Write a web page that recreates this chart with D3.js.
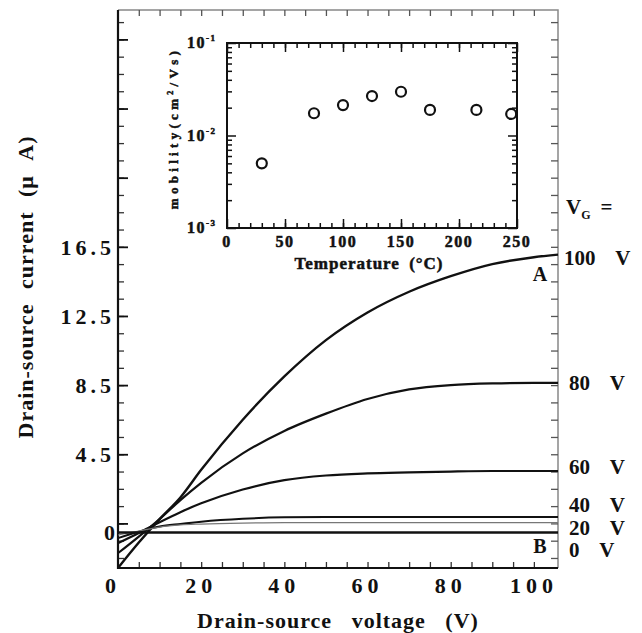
<!DOCTYPE html>
<html>
<head>
<meta charset="utf-8">
<script src="https://cdn.jsdelivr.net/npm/d3@7"></script>
<style>
  body { margin: 0; background: #fff; }
  text { font-family: "Liberation Serif", "Times New Roman", serif; font-weight: bold; fill: #111; }
  .inset text { stroke: #111; stroke-width: 0.5; }
</style>
</head>
<body>
<svg id="chart" width="642" height="633"></svg>
<script>
// drain-source sweep (V) and drain current (uA) per gate voltage
const vds   = [0, 5, 10, 15, 20, 30, 40, 50, 60, 70, 80, 90, 100, 105.8];
const id100 = [-2.08, -0.61, 0.75, 2.0, 3.6, 6.5, 9.0, 11.1, 12.7, 13.9, 14.8, 15.5, 15.9, 16.05];
const id80  = [-1.22, -0.26, 0.75, 1.85, 2.85, 4.55, 5.85, 6.85, 7.7, 8.25, 8.5, 8.6, 8.63, 8.63];
const id60  = [-0.64, -0.05, 0.57, 1.15, 1.66, 2.46, 3.0, 3.27, 3.39, 3.45, 3.50, 3.53, 3.53, 3.53];
const id40  = [-0.35, 0.02, 0.32, 0.47, 0.60, 0.77, 0.85, 0.87, 0.87, 0.87, 0.87, 0.87, 0.87, 0.87];
const id20  = [-0.17, 0.06, 0.29, 0.41, 0.46, 0.52, 0.55, 0.55, 0.55, 0.55, 0.55, 0.55, 0.55, 0.55];
const id0   = [-0.03, -0.03, -0.03, -0.03, -0.03, -0.03, -0.03, -0.03, -0.03, -0.03, -0.03, -0.03, -0.03, -0.03];
const vgLabels = ['100 V', '80 V', '60 V', '40 V', '20 V', '0 V'];
const yTickVals = [0, 4.5, 8.5, 12.5, 16.5];
const xTickVals = [0, 20, 40, 60, 80, 100];

// inset: mobility vs temperature
const temps = [30, 75, 100, 125, 150, 175, 215, 245];
const mobility = [0.0050, 0.0174, 0.0213, 0.0267, 0.0297, 0.0189, 0.0189, 0.0171];
const tempTicks = [0, 50, 100, 150, 200, 250];
const mobTicks = [1e-3, 1e-2, 1e-1];

const svg = d3.select('#chart');

const x = d3.scaleLinear().domain([0, 105.8]).range([118, 558]);
const y = d3.scaleLinear().domain([-2.08, 30.2]).range([568, 10]);

// frame: top and right lighter
svg.append('path')
  .attr('d', `M${x(0)},${y(30.2)}H${x(105.8)}V${y(-2.08)}`)
  .attr('fill', 'none').attr('stroke', '#888').attr('stroke-width', 1.5);

// minor ticks
const minorY = d3.range(-1.5, 30, 1);
const majorY = d3.range(0.5, 30, 4);
const minorX = d3.range(5, 105, 5);

svg.append('g')
  .attr('transform', `translate(${x(0)},0)`)
  .call(d3.axisRight(y).tickValues(minorY).tickSize(6).tickFormat(''))
  .call(g => g.select('.domain').remove())
  .selectAll('line').attr('stroke', '#333').attr('stroke-width', 1.3);
svg.append('g')
  .attr('transform', `translate(${x(0)},0)`)
  .call(d3.axisRight(y).tickValues(majorY).tickSize(10).tickFormat(''))
  .call(g => g.select('.domain').remove())
  .selectAll('line').attr('stroke', '#111').attr('stroke-width', 1.8);
svg.append('g')
  .attr('transform', `translate(${x(105.8)},0)`)
  .call(d3.axisLeft(y).tickValues(minorY).tickSize(7).tickFormat(''))
  .call(g => g.select('.domain').remove())
  .selectAll('line').attr('stroke', '#555').attr('stroke-width', 1.3);

svg.append('g')
  .attr('transform', `translate(0,${y(-2.08)})`)
  .call(d3.axisTop(x).tickValues(minorX).tickSize(6).tickFormat(''))
  .call(g => g.select('.domain').remove())
  .selectAll('line').attr('stroke', '#333').attr('stroke-width', 1.3);
svg.append('g')
  .attr('transform', `translate(0,${y(30.2)})`)
  .call(d3.axisBottom(x).tickValues(minorX).tickSize(6).tickFormat(''))
  .call(g => g.select('.domain').remove())
  .selectAll('line').attr('stroke', '#555').attr('stroke-width', 1.3);

// left & bottom spines
svg.append('path')
  .attr('d', `M${x(0)},${y(30.2)}V${y(-2.08)}H${x(105.8)}`)
  .attr('fill', 'none').attr('stroke', '#111').attr('stroke-width', 2.2);

// tick labels
svg.append('g').selectAll('text')
  .data(yTickVals)
  .join('text')
    .attr('x', 115)
    .attr('y', d => y(d))
    .attr('dy', '0.35em')
    .attr('text-anchor', 'end')
    .attr('font-size', 22)
    .attr('letter-spacing', d => d === 0 ? 0 : 4)
    .text(d => d);

svg.append('g').selectAll('text')
  .data(xTickVals)
  .join('text')
    .attr('x', d => x(d) + (d === 0 ? -5 : 0))
    .attr('y', 593)
    .attr('text-anchor', 'middle')
    .attr('font-size', 22)
    .attr('letter-spacing', 5)
    .text(d => d);

// axis titles
svg.append('text')
  .attr('x', 338).attr('y', 628)
  .attr('text-anchor', 'middle')
  .attr('font-size', 22)
  .attr('letter-spacing', 1)
  .attr('word-spacing', 13)
  .text('Drain-source voltage (V)');

svg.append('text')
  .attr('transform', 'translate(33,287) rotate(-90)')
  .attr('text-anchor', 'middle')
  .attr('font-size', 22)
  .attr('letter-spacing', 1)
  .attr('word-spacing', 8)
  .text('Drain-source current (\u03bc A)');

// curves
const curves = [
  {vals: id100, w: 2.4, c: '#111'},
  {vals: id80,  w: 2.2, c: '#111'},
  {vals: id60,  w: 2.2, c: '#111'},
  {vals: id40,  w: 2.0, c: '#111'},
  {vals: id20,  w: 1.2, c: '#777'},
  {vals: id0,   w: 2.6, c: '#111'}
];
const line = d3.line()
  .x((d, i) => x(vds[i]))
  .y(d => y(d))
  .curve(d3.curveMonotoneX);

svg.append('g').selectAll('path')
  .data(curves)
  .join('path')
    .attr('d', d => line(d.vals))
    .attr('fill', 'none')
    .attr('stroke', d => d.c)
    .attr('stroke-width', d => d.w);

// right-hand gate labels
const labelY = [258, 383, 467, 505, 528, 550];
svg.append('g').selectAll('text')
  .data(vgLabels)
  .join('text')
    .attr('x', (d, i) => i === 0 ? 564 : 569)
    .attr('y', (d, i) => labelY[i])
    .attr('dy', '0.35em')
    .attr('font-size', 21)
    .attr('word-spacing', 15)
    .text(d => d);

const vg = svg.append('text').attr('x', 566).attr('y', 214).attr('font-size', 21);
vg.append('tspan').text('V');
vg.append('tspan').attr('font-size', 12).attr('dy', 5).text('G');
vg.append('tspan').attr('dy', -5).attr('dx', 10).text('=');

svg.append('text').attr('x', 540).attr('y', 274).attr('dy', '0.35em')
  .attr('text-anchor', 'middle').attr('font-size', 20).text('A');
svg.append('text').attr('x', 540).attr('y', 546).attr('dy', '0.35em')
  .attr('text-anchor', 'middle').attr('font-size', 20).text('B');

// ---- inset ----
const xi = d3.scaleLinear().domain([0, 250]).range([227, 517]);
const yi = d3.scaleLog().domain([1e-3, 1e-1]).range([228, 43]);
const inset = svg.append('g').attr('class', 'inset');

inset.append('rect')
  .attr('x', 227).attr('y', 43).attr('width', 290).attr('height', 185)
  .attr('fill', '#fff').attr('stroke', '#111').attr('stroke-width', 2);

const tMinor = d3.range(10, 250, 10);
const logMinor = [];
[1e-3, 1e-2].forEach(b => d3.range(2, 10).forEach(k => logMinor.push(b * k)));

inset.append('g').attr('transform', 'translate(0,228)')
  .call(d3.axisTop(xi).tickValues(tMinor).tickSize(5).tickFormat(''))
  .call(g => g.select('.domain').remove());
inset.append('g').attr('transform', 'translate(0,228)')
  .call(d3.axisTop(xi).tickValues(tempTicks).tickSize(9).tickFormat(''))
  .call(g => g.select('.domain').remove());
inset.append('g').attr('transform', 'translate(0,43)')
  .call(d3.axisBottom(xi).tickValues(tMinor).tickSize(5).tickFormat(''))
  .call(g => g.select('.domain').remove());
inset.append('g').attr('transform', 'translate(0,43)')
  .call(d3.axisBottom(xi).tickValues(tempTicks).tickSize(9).tickFormat(''))
  .call(g => g.select('.domain').remove());
inset.append('g').attr('transform', 'translate(227,0)')
  .call(d3.axisRight(yi).tickValues(logMinor).tickSize(5).tickFormat(''))
  .call(g => g.select('.domain').remove());
inset.append('g').attr('transform', 'translate(227,0)')
  .call(d3.axisRight(yi).tickValues(mobTicks).tickSize(9).tickFormat(''))
  .call(g => g.select('.domain').remove());
inset.append('g').attr('transform', 'translate(517,0)')
  .call(d3.axisLeft(yi).tickValues(logMinor).tickSize(5).tickFormat(''))
  .call(g => g.select('.domain').remove());
inset.append('g').attr('transform', 'translate(517,0)')
  .call(d3.axisLeft(yi).tickValues(mobTicks).tickSize(9).tickFormat(''))
  .call(g => g.select('.domain').remove());
inset.selectAll('.tick line').attr('stroke', '#111').attr('stroke-width', 1.5);

inset.append('g').selectAll('text')
  .data(tempTicks)
  .join('text')
    .attr('x', d => xi(d))
    .attr('y', 247)
    .attr('text-anchor', 'middle')
    .attr('font-size', 16)
    .attr('letter-spacing', 1.5)
    .text(d => d);

const yl = inset.append('g').selectAll('text')
  .data(mobTicks)
  .join('text')
    .attr('x', 187)
    .attr('y', d => yi(d) + 5)
    .attr('font-size', 16)
    .attr('letter-spacing', 1.5);
yl.append('tspan').text('10');
yl.append('tspan').attr('font-size', 9).attr('dy', -7).text(d => Math.round(Math.log10(d)));

inset.append('text')
  .attr('x', 369).attr('y', 269)
  .attr('text-anchor', 'middle')
  .attr('font-size', 17)
  .attr('letter-spacing', 1)
  .attr('word-spacing', 4)
  .text('Temperature (\u00b0C)');

const ml = inset.append('text')
  .attr('transform', 'translate(178,128) rotate(-90)')
  .attr('text-anchor', 'middle')
  .attr('font-size', 13)
  .attr('letter-spacing', 4.3);
ml.append('tspan').text('mobility(cm');
ml.append('tspan').attr('font-size', 8).attr('dy', -5).text('2');
ml.append('tspan').attr('dy', 5).text('/Vs)');

inset.append('g').selectAll('circle')
  .data(temps)
  .join('circle')
    .attr('cx', d => xi(d))
    .attr('cy', (d, i) => yi(mobility[i]))
    .attr('r', 5)
    .attr('fill', 'none')
    .attr('stroke', '#111')
    .attr('stroke-width', 2.2);
</script>
</body>
</html>
